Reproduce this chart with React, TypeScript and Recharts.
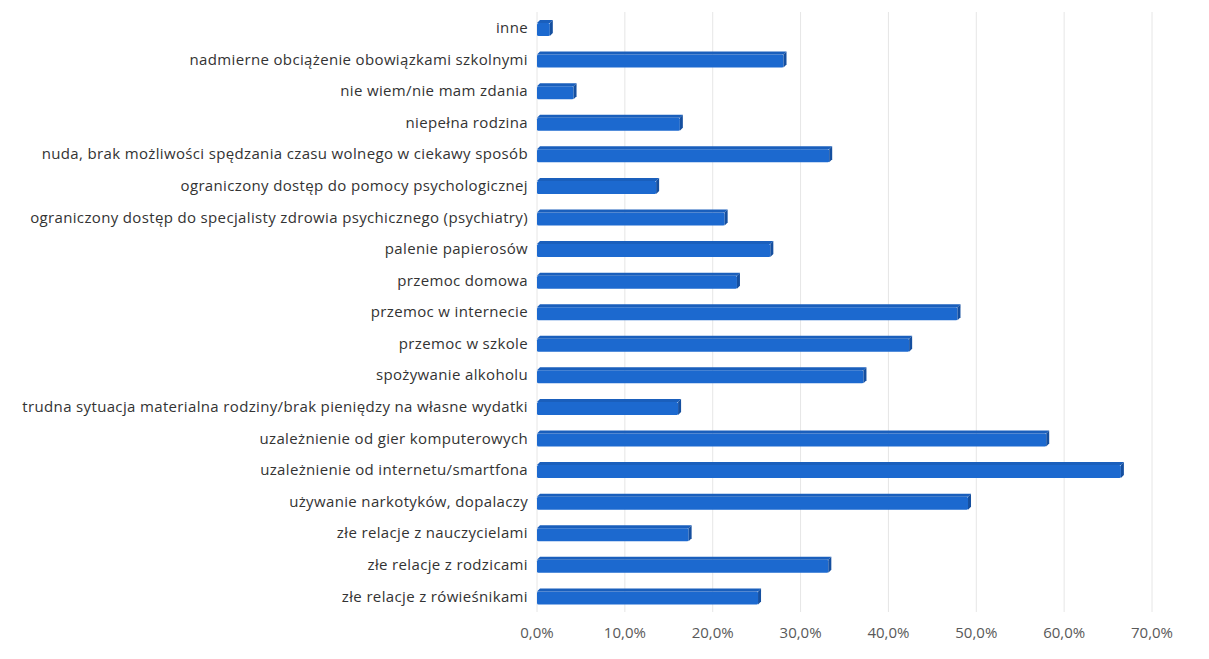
import React from 'react';
import { BarChart, Bar, XAxis, YAxis, CartesianGrid } from 'recharts';

// odpowiedzi (kolejność jak na wykresie, od góry)
const categories = [
  'inne',
  'nadmierne obciążenie obowiązkami szkolnymi',
  'nie wiem/nie mam zdania',
  'niepełna rodzina',
  'nuda, brak możliwości spędzania czasu wolnego w ciekawy sposób',
  'ograniczony dostęp do pomocy psychologicznej',
  'ograniczony dostęp do specjalisty zdrowia psychicznego (psychiatry)',
  'palenie papierosów',
  'przemoc domowa',
  'przemoc w internecie',
  'przemoc w szkole',
  'spożywanie alkoholu',
  'trudna sytuacja materialna rodziny/brak pieniędzy na własne wydatki',
  'uzależnienie od gier komputerowych',
  'uzależnienie od internetu/smartfona',
  'używanie narkotyków, dopalaczy',
  'złe relacje z nauczycielami',
  'złe relacje z rodzicami',
  'złe relacje z rówieśnikami',
];

const percents = [
  1.8, 28.4, 4.5, 16.6, 33.6, 13.9, 21.7, 26.9, 23.1, 48.2,
  42.7, 37.5, 16.4, 58.3, 66.8, 49.4, 17.6, 33.5, 25.5,
];

const xTicks = [0, 10, 20, 30, 40, 50, 60, 70];

const data = categories.map((name, i) => ({ name, value: percents[i] }));

const fmt = (v: number) => `${v.toFixed(1).replace('.', ',')}%`;

// słupek z lekkim efektem 3D
const Bar3D = (props: any) => {
  const { x, y, width, height } = props;
  if (!width || width <= 0) return null;
  const d = 3;
  const w = Math.max(width - d, 1);
  return (
    <g>
      <rect x={x} y={y + d} width={w} height={height - d} fill="#1c69cf" rx={1.5} />
      <polygon
        points={`${x},${y + d} ${x + d},${y} ${x + width},${y} ${x + w},${y + d}`}
        fill="#1a5fbc"
      />
      <polygon
        points={`${x + w},${y + d} ${x + width},${y} ${x + width},${y + height - d} ${x + w},${y + height}`}
        fill="#154f9f"
      />
    </g>
  );
};

export default function App() {
  return (
    <div style={{ width: 1201, height: 651, background: '#fff', fontFamily: '"Open Sans", sans-serif' }}>
      <BarChart
        width={1201}
        height={651}
        data={data}
        layout="vertical"
        margin={{ top: 4, right: 57, bottom: 17, left: 0 }}
        barCategoryGap={0}
      >
        <CartesianGrid horizontal={false} stroke="#e6e6e6" />
        <XAxis
          type="number"
          domain={[0, 70]}
          ticks={xTicks}
          tickFormatter={fmt}
          axisLine={false}
          tickLine={false}
          tickSize={0}
          tickMargin={15}
          height={30}
          tick={{ fill: '#595959', fontSize: 15 }}
          interval={0}
        />
        <YAxis
          type="category"
          dataKey="name"
          width={529}
          axisLine={false}
          tickLine={false}
          tickSize={0}
          tickMargin={9}
          interval={0}
          tick={{ fill: '#333', fontSize: 15, letterSpacing: 0.35 }}
        />
        <Bar dataKey="value" barSize={16} shape={Bar3D} isAnimationActive={false} />
      </BarChart>
    </div>
  );
}
